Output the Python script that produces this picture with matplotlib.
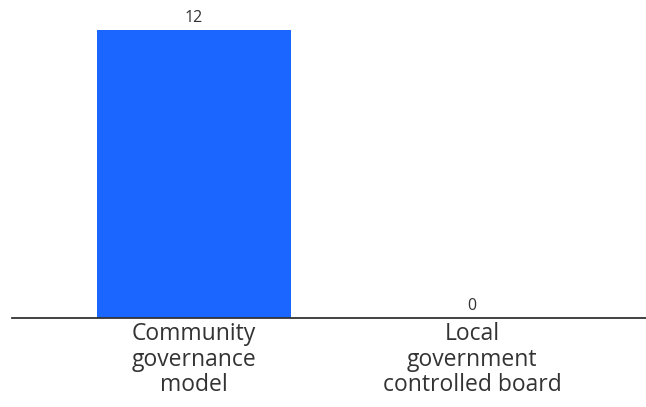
import matplotlib
matplotlib.use("Agg")
import matplotlib.pyplot as plt

categories = ["Community\ngovernance\nmodel", "Local\ngovernment\ncontrolled board"]
counts = [12, 0]

plt.rcParams['font.family'] = ['Open Sans', 'DejaVu Sans']

W, H = 646, 407
fig = plt.figure(figsize=(W/100, H/100), dpi=100)
# axes placed in pixel coords: baseline at y=318, left edge x=12
ax = fig.add_axes([12/W, (H-318)/H, (W-12)/W, 318/H])

xs = range(len(categories))
bars = ax.bar(xs, counts, width=0.7, color='#1a66ff')
for b, v in zip(bars, counts):
    ax.annotate(str(v), (b.get_x()+b.get_width()/2, v), xytext=(0, 3),
                textcoords='offset points', ha='center', va='bottom',
                fontsize=11.5, color='#333333')

ax.set_xlim(-0.655, 1.626)
ax.set_ylim(0, 13.25)
ax.set_xticks(list(xs))
ax.set_xticklabels(categories, fontsize=16.5, color='#333333', linespacing=1.08)
ax.tick_params(axis='x', length=0, pad=3)
ax.set_yticks([])
for s in ['top', 'right', 'left']:
    ax.spines[s].set_visible(False)
ax.spines['bottom'].set_color('#333333')
ax.spines['bottom'].set_linewidth(1.3)

fig.savefig("out.png", dpi=100)
